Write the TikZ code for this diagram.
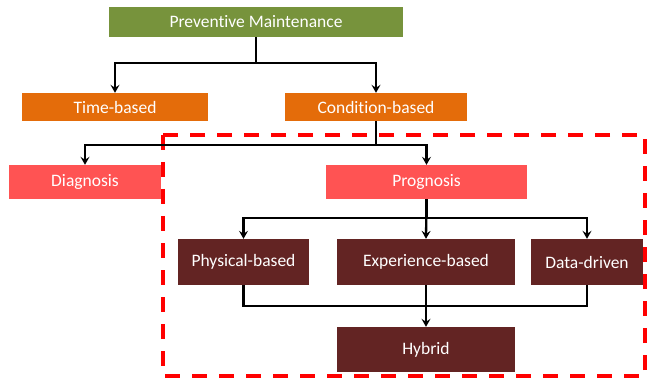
\documentclass[tikz,border=0pt]{standalone}
\usepackage{fontspec}
\setmainfont{Carlito}[Ligatures={NoCommon}]
\usetikzlibrary{arrows.meta}
\definecolor{pmgreen}{HTML}{77933C}
\definecolor{cborange}{HTML}{E46C0A}
\definecolor{dgred}{HTML}{FF5353}
\definecolor{maroon}{HTML}{632423}
\definecolor{dashred}{HTML}{FF0000}
\begin{document}
\begin{tikzpicture}[x=1pt,y=1pt,
  box/.style={draw=none,text=white,font=\fontsize{17.5}{20}\selectfont,inner sep=0pt,anchor=center},
  arr/.style={draw=black,line width=2.3pt,-{Stealth[length=8pt,width=9pt,inset=3pt]}},
  ln/.style={draw=black,line width=2.3pt}]
\useasboundingbox (0,0) rectangle (648,378);
\draw[dashred,line width=4pt,dash pattern=on 15pt off 12pt] (163,243) rectangle (645,2);
\node[box,fill=pmgreen,minimum width=294pt,minimum height=30pt] (pm) at (256,356) {Preventive Maintenance};
\node[box,fill=cborange,minimum width=186pt,minimum height=28pt] (tb) at (115,271) {Time-based};
\node[box,fill=cborange,minimum width=182pt,minimum height=28pt] (cb) at (376,271) {Condition-based};
\node[box,fill=dgred,minimum width=152pt,minimum height=34pt] (dg) at (85,196) {Diagnosis};
\node[box,fill=dgred,minimum width=201pt,minimum height=34pt] (pg) at (426.5,196) {Prognosis};
\node[box,fill=maroon,minimum width=131pt,minimum height=46pt] (ph) at (243.5,116) {Physical-based};
\node[box,fill=maroon,minimum width=178pt,minimum height=46pt] (ex) at (426,116) {Experience-based};
\node[box,fill=maroon,minimum width=112pt,minimum height=46pt] (dd) at (587,116) {Data-driven};
\node[box,fill=maroon,minimum width=178pt,minimum height=45pt] (hy) at (426,28.5) {Hybrid};
% level 1
\draw[arr] (pm.south) |- (256,315) -| (tb.north);
\draw[arr] (pm.south) |- (256,315) -| (cb.north);
% level 2
\draw[arr] (cb.south) |- (376,233) -| (dg.north);
\draw[arr] (cb.south) |- (376,233) -| (pg.north);
% level 3
\draw[arr] (pg.south) |- (426,160) -| (ph.north);
\draw[arr] (pg.south) -- (ex.north);
\draw[arr] (pg.south) |- (426,160) -| (dd.north);
% level 4
\draw[ln] (ph.south) |- (dd.south |- 0,72) -- (dd.south);
\draw[arr] (ex.south) -- (hy.north);
\end{tikzpicture}
\end{document}
